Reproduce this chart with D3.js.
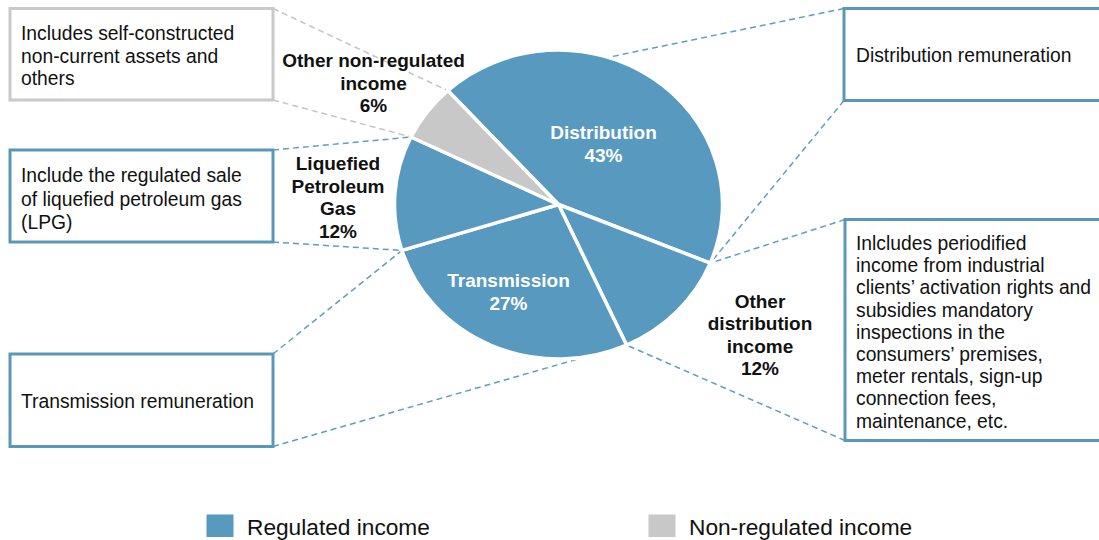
<!DOCTYPE html>
<html>
<head>
<meta charset="utf-8">
<script src="https://cdn.jsdelivr.net/npm/d3@7"></script>
<style>
  html, body { margin: 0; padding: 0; background: #fff; }
  svg { display: block; font-family: Arial, "Liberation Sans", sans-serif; }
</style>
</head>
<body>
<svg id="chart" width="1099" height="540"></svg>
<script>
// ---- data ----
const categories = ["Distribution", "Other distribution income", "Transmission", "Liquefied Petroleum Gas", "Other non-regulated income"];
const values = [43, 12, 27, 12, 6];
const incomeTypes = ["Regulated income", "Regulated income", "Regulated income", "Regulated income", "Non-regulated income"];
const sliceLabelLines = [
  ["Distribution", "43%"],
  ["Other", "distribution", "income", "12%"],
  ["Transmission", "27%"],
  ["Liquefied", "Petroleum", "Gas", "12%"],
  ["Other non-regulated", "income", "6%"]
];
const noteLines = [
  ["Distribution remuneration"],
  ["Inlcludes periodified", "income from industrial", "clients’ activation rights and", "subsidies mandatory", "inspections in the", "consumers’ premises,", "meter rentals, sign-up", "connection fees,", "maintenance, etc."],
  ["Transmission remuneration"],
  ["Include the regulated sale", "of liquefied petroleum gas", "(LPG)"],
  ["Includes self-constructed", "non-current assets and", "others"]
];
const legendLabels = ["Regulated income", "Non-regulated income"];

// ---- layout / style ----
const W = 1099, H = 540;
const cx = 558.5, cy = 204.5, rx = 164, ry = 154.5;
const sy = ry / rx;
const startDeg = -42.5;
const colorScale = d3.scaleOrdinal().domain(legendLabels).range(["#5799bf", "#c8c8c8"]);
const borderScale = d3.scaleOrdinal().domain(legendLabels).range(["#5a98b8", "#c9c9c9"]);
const dashScale = d3.scaleOrdinal().domain(legendLabels).range(["#5f9ebf", "#c4c4c4"]);

const svg = d3.select("#chart");

const data = categories.map((c, i) => ({ cat: c, value: values[i], type: incomeTypes[i], lines: sliceLabelLines[i], note: noteLines[i], i }));

const pie = d3.pie().sort(null).value(d => d.value)
  .startAngle(startDeg * Math.PI / 180)
  .endAngle(startDeg * Math.PI / 180 + 2 * Math.PI);
const arcs = pie(data);

function edgePoint(a) {
  return [cx + rx * Math.sin(a), cy - ry * Math.cos(a)];
}

// note boxes: [x, y, w, h, side]
const boxes = [
  { x: 844, y: 8.5, w: 270, h: 92, side: "left", textX: 856, lineY0: 55, dy: 22.5 },
  { x: 845, y: 219.5, w: 270, h: 221, side: "left", textX: 856, lineY0: 243, dy: 22.2 },
  { x: 10, y: 354, w: 263, h: 92.5, side: "right", textX: 21, lineY0: 401.5, dy: 22.5 },
  { x: 10, y: 150, w: 263, h: 92, side: "right", textX: 21, lineY0: 175.5, dy: 23.2 },
  { x: 10, y: 8.5, w: 263, h: 91.5, side: "right", textX: 21, lineY0: 33.5, dy: 22.5 }
];

// connectors (drawn under the pie)
const conn = svg.append("g");
arcs.forEach((a, i) => {
  const b = boxes[i];
  const ps = edgePoint(a.startAngle), pe = edgePoint(a.endAngle);
  let pairs;
  if (b.side === "left") {
    pairs = [[[b.x, b.y], ps], [[b.x, b.y + b.h], pe]];
  } else {
    pairs = [[[b.x + b.w, b.y], pe], [[b.x + b.w, b.y + b.h], ps]];
  }
  pairs.forEach(([p0, p1]) => {
    conn.append("line")
      .attr("x1", p0[0]).attr("y1", p0[1])
      .attr("x2", p1[0]).attr("y2", p1[1])
      .attr("stroke", dashScale(a.data.type))
      .attr("stroke-width", 1.5)
      .attr("stroke-dasharray", "6,4");
  });
});

// pie
const arc = d3.arc().innerRadius(0).outerRadius(rx);
const pg = svg.append("g").attr("transform", `translate(${cx},${cy}) scale(1,${sy})`);
pg.selectAll("path").data(arcs).join("path")
  .attr("d", arc)
  .attr("fill", d => colorScale(d.data.type))
  .attr("stroke", "#fff")
  .attr("stroke-width", 3.5)
  .attr("stroke-linejoin", "round")
  .style("vector-effect", "non-scaling-stroke");

// slice labels
const labelPos = [
  { x: 603.5, y: 131.7, dy: 23.3, color: "#fff" },
  { x: 760, y: 300.7, dy: 22.5, color: "#111" },
  { x: 508.5, y: 280, dy: 23.3, color: "#fff" },
  { x: 338, y: 163.5, dy: 22.5, color: "#111" },
  { x: 373.5, y: 60, dy: 22.8, color: "#111" }
];
arcs.forEach((a, i) => {
  const p = labelPos[i];
  const t = svg.append("text")
    .attr("text-anchor", "middle")
    .attr("font-weight", "bold")
    .attr("font-size", "19px")
    .attr("fill", p.color);
  a.data.lines.forEach((ln, k) => {
    t.append("tspan").attr("x", p.x).attr("y", p.y + k * p.dy).attr("dy", "0.36em").text(ln);
  });
});

// note boxes
arcs.forEach((a, i) => {
  const b = boxes[i];
  svg.append("rect")
    .attr("x", b.x).attr("y", b.y).attr("width", b.w).attr("height", b.h)
    .attr("fill", "#fff")
    .attr("stroke", borderScale(a.data.type))
    .attr("stroke-width", 3);
  const t = svg.append("text").attr("font-size", "19.3px").attr("fill", "#111");
  a.data.note.forEach((ln, k) => {
    t.append("tspan").attr("x", b.textX).attr("y", b.lineY0 + k * b.dy).attr("dy", "0.36em").text(ln);
  });
});

// legend
const legX = [206.5, 648.5];
const lg = svg.append("g");
legendLabels.forEach((lab, i) => {
  lg.append("rect").attr("x", legX[i]).attr("y", 514.5).attr("width", 27).attr("height", 22.5)
    .attr("fill", colorScale(lab));
  lg.append("text").attr("x", legX[i] + 40.5).attr("y", 526.5).attr("dy", "0.36em")
    .attr("font-size", "22.7px").attr("fill", "#111").text(lab);
});
</script>
</body>
</html>
